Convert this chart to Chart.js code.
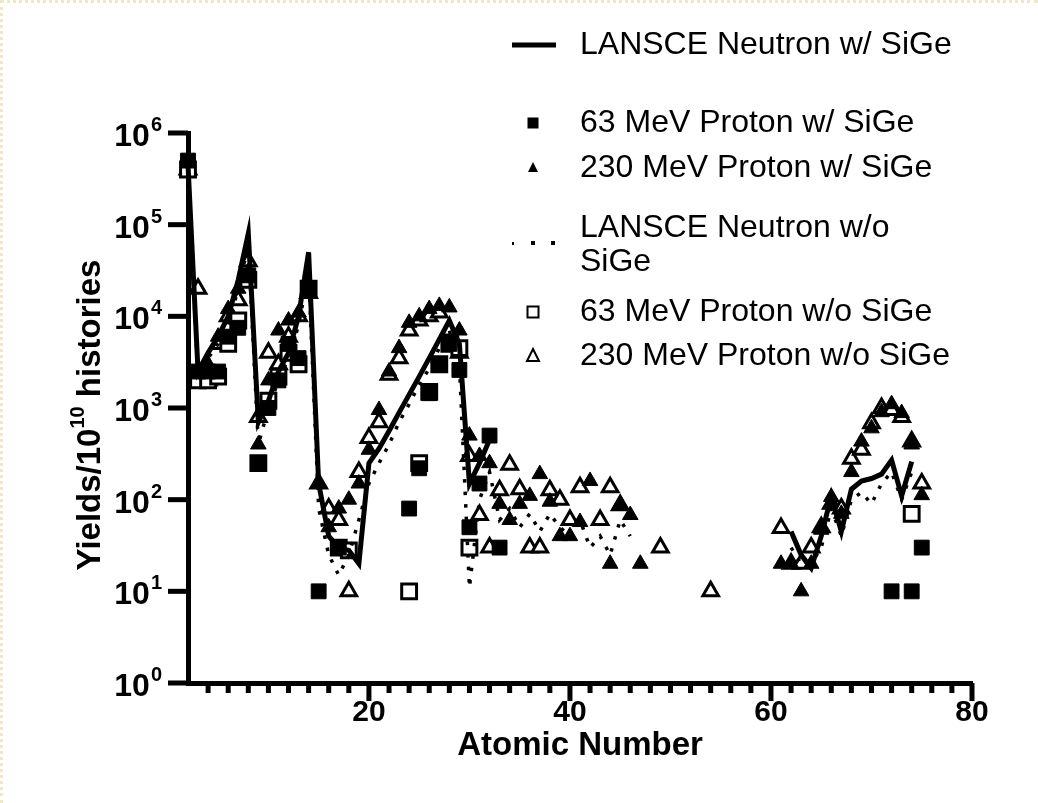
<!DOCTYPE html>
<html>
<head>
<meta charset="utf-8">
<script src="https://cdn.jsdelivr.net/npm/chart.js@4.4.1/dist/chart.umd.min.js"></script>
<style>
    html, body { margin: 0; padding: 0; background: #fff; }
    #wrap { position: relative; width: 1038px; height: 803px; }
    #frame {
        position: absolute; left: 0; top: 0; width: 1038px; height: 803px;
        border-top: 3px dotted #f1e7c4; border-left: 3px dotted #f1e7c4;
        box-sizing: border-box; pointer-events: none;
    }
</style>
</head>
<body>
<div id="wrap">
    <canvas id="yieldChart" width="1038" height="803"></canvas>
    <div id="frame"></div>
</div>
<script>
// Series labels (legend order)
const seriesLabels = [
    'LANSCE Neutron w/ SiGe',
    '63 MeV Proton w/ SiGe',
    '230 MeV Proton w/ SiGe',
    'LANSCE Neutron w/o SiGe',
    '63 MeV Proton w/o SiGe',
    '230 MeV Proton w/o SiGe'
];

// LANSCE neutron with SiGe (solid line), null = gap
const lansceWithZ = [2, 3, 4, 5, 6, 7, 8, 9, 10, 11, 12, 13, 14, 15, 16, 17, 18, 19, 20, 21, 22, 23, 24, 25, 26, 27, 28, 29, 30, 31, 32, 33,
                     62, 63, 64, 65, 66, 67, 68, 69, 70, 71, 72, 73, 74];
const lansceWith = [4.5e5, 2500, 4000, 6000, 1e4, 2.5e4, 8e4, 700, 1200, 2500, 4000, 1e4, 5e4, 150, 40, 30, 28, 20, 250, 360, 560, 890, 1400, 2200, 3500, 5600, 9000, 5000, 150, 250, 450, null,
                    45, 25, 18, 40, 110, 45, 130, 160, 170, 190, 270, 110, 260];

// LANSCE neutron without SiGe (dotted line)
const lansceWithoutZ = [2, 3, 4, 5, 6, 7, 8, 9, 10, 11, 12, 13, 14, 15, 16, 17, 18, 19, 20, 21, 22, 23, 24, 25, 26, 27, 28, 29, 30, 31, 32,
                        33, 34, 35, 36, 37, 38, 39, 40, 41, 42, 43, 44, 45, 46, 47,
                        62, 63, 64, 65, 66, 67, 68, 69, 70, 71, 72, 73, 74];
const lansceWithout = [4e5, 2000, 3500, 5000, 8000, 2e4, 6e4, 400, 1000, 2000, 3500, 8000, 3e4, 80, 25, 15, 25, 60, 150, 250, 400, 700, 1100, 1800, 2700, 4500, 7000, 3000, 11, 100, 200,
                       60, 80, 50, 70, 45, 70, 50, 40, 60, 30, 40, 25, 60, 40, null,
                       30, 20, 20, 30, 80, 40, 100, 120, 90, 150, 200, 100, 200];

// 63 MeV proton with SiGe (filled squares)
const p63WithZ = [2, 3, 4, 5, 6, 7, 8, 9, 10, 11, 12, 13, 14, 15, 17, 24, 25, 26, 27, 28, 29, 30, 31, 32, 33, 72, 74, 75];
const p63With = [5e5, 2500, 2500, 2500, 6000, 7500, 2.8e4, 250, 1000, 2000, 5000, 3500, 2e4, 10, 30, 80, 220, 1450, 3000, 5000, 2600, 50, 150, 500, 30, 10, 10, 30];

// 230 MeV proton with SiGe (filled triangles)
const p230WithZ = [2, 3, 4, 5, 6, 7, 8, 9, 10, 11, 12, 13, 14, 15, 16, 17, 18, 19, 20, 21, 22, 23, 24, 25, 26, 27, 28, 29, 30, 31, 32, 33, 34, 35, 36, 37, 38, 39, 40, 41, 42, 44, 45, 46, 47,
                   61, 62, 63, 64, 65, 66, 67, 68, 69, 70, 71, 72, 73, 74, 75];
const p230With = [5e5, 2500, 3000, 6000, 1.2e4, 2e4, 3e4, 400, 2000, 7000, 9000, 1.1e4, 2.2e4, 150, 50, 80, 100, 150, 350, 950, 2500, 4500, 8500, 1e4, 1.2e4, 1.3e4, 1.25e4, 7000, 500, 300, 250, 90, 60, 90, 110, 190, 95, 40, 40, 57, 160, 20, 90, 68, 20,
                  20, 20, 10, 20, 47, 107, 70, 200, 430, 600, 900, 1100, 880, 400, 112];

// 63 MeV proton without SiGe (open squares)
const p63WithoutZ = [2, 3, 4, 5, 6, 7, 8, 9, 10, 11, 12, 13, 14, 17, 18, 24, 25, 26, 27, 28, 29, 30, 74];
const p63Without = [4e5, 2000, 2000, 2200, 5000, 9000, 2.5e4, 250, 1200, 2200, 4000, 3000, 2e4, 30, 28, 10, 250, 1500, 3000, 5000, 4500, 30, 70];

// 230 MeV proton without SiGe (open triangles)
const p230WithoutZ = [2, 3, 4, 5, 6, 7, 8, 9, 10, 11, 12, 13, 14, 15, 16, 17, 18, 19, 20, 21, 22, 23, 24, 25, 26, 27, 28, 29, 30, 31, 32, 33, 34, 35, 36, 37, 38, 39, 40, 41, 43, 44, 45, 49, 54,
                      61, 62, 63, 64, 65, 66, 67, 68, 69, 70, 71, 72, 73, 74, 75];
const p230Without = [4e5, 2e4, 2000, 5000, 1e4, 1.5e4, 4e4, 800, 4000, 3000, 6000, 1e4, 1.8e4, 150, 80, 60, 10, 200, 470, 700, 2300, 3500, 7000, 9000, 1e4, 1.1e4, 7000, 4000, 300, 68, 30, 127, 240, 130, 30, 30, 127, 100, 60, 137, 60, 137, 87, 30, 10,
                     49, 20, 20, 30, 50, 90, 80, 280, 350, 680, 1000, 950, 800, 430, 150];

// Axis ticks
const xMinorTicks = [4, 6, 8, 10, 12, 14, 16, 18, 22, 24, 26, 28, 30, 32, 34, 36, 38, 42, 44, 46, 48, 50, 52, 54, 56, 58, 62, 64, 66, 68, 70, 72, 74, 76, 78];
const xMajorTicks = [20, 40, 60, 80];
const xTickLabels = ['20', '40', '60', '80'];
const yTickValues = [1, 10, 100, 1000, 1e4, 1e5, 1e6];
const yTickExponents = ['0', '1', '2', '3', '4', '5', '6'];

const FONT = "'Liberation Sans', Arial, sans-serif";

function toPoints(zs, vals) {
    return zs.map((z, i) => ({ x: z, y: vals[i] }));
}

// tick marks, tick labels and axis titles
const axisDecor = {
    id: 'axisDecor',
    afterDraw(chart) {
        const { ctx, chartArea } = chart;
        const x = chart.scales.x;
        const y = chart.scales.y;
        ctx.save();
        ctx.fillStyle = '#000';

        xMinorTicks.forEach(v => {
            const px = x.getPixelForValue(v);
            ctx.fillRect(px - 2.5, chartArea.bottom, 5, 10);
        });
        ctx.font = `bold 30px ${FONT}`;
        ctx.textAlign = 'center';
        ctx.textBaseline = 'middle';
        xMajorTicks.forEach((v, i) => {
            const px = x.getPixelForValue(v);
            ctx.fillRect(px - 2.5, chartArea.bottom, 5, 18);
            ctx.fillText(xTickLabels[i], px, chartArea.bottom + 30);
        });

        yTickValues.forEach((v, i) => {
            const py = y.getPixelForValue(v);
            ctx.fillRect(chartArea.left - 20, py - 2.5, 20, 5);
            ctx.font = `bold 20px ${FONT}`;
            const ew = ctx.measureText(yTickExponents[i]).width;
            ctx.textAlign = 'left';
            ctx.textBaseline = 'alphabetic';
            ctx.fillText(yTickExponents[i], 162 - ew, py - 2);
            ctx.font = `bold 32px ${FONT}`;
            ctx.textAlign = 'right';
            ctx.fillText('10', 162 - ew - 1, py + 13);
        });

        // x title
        ctx.font = `bold 33px ${FONT}`;
        ctx.textAlign = 'center';
        ctx.textBaseline = 'middle';
        ctx.fillText('Atomic Number', (chartArea.left + chartArea.right) / 2, 746);

        // y title with superscript
        ctx.translate(88, 415);
        ctx.rotate(-Math.PI / 2);
        const partA = 'Yields/10';
        const partB = '10';
        const partC = ' histories';
        ctx.font = `bold 33px ${FONT}`;
        const wa = ctx.measureText(partA).width;
        const wc = ctx.measureText(partC).width;
        ctx.font = `bold 20px ${FONT}`;
        const wb = ctx.measureText(partB).width;
        let cx = -(wa + wb + wc) / 2;
        ctx.textAlign = 'left';
        ctx.textBaseline = 'alphabetic';
        ctx.font = `bold 33px ${FONT}`;
        ctx.fillText(partA, cx, 12);
        cx += wa;
        ctx.font = `bold 20px ${FONT}`;
        ctx.fillText(partB, cx, -4);
        cx += wb;
        ctx.font = `bold 33px ${FONT}`;
        ctx.fillText(partC, cx, 12);
        ctx.restore();
    }
};

// legend in the upper right
const legendBox = {
    id: 'legendBox',
    afterDraw(chart) {
        const { ctx } = chart;
        const symX = 533;
        const textX = 580;
        const rows = [45, 123, 168, 228, 312, 356];
        ctx.save();
        ctx.fillStyle = '#000';
        ctx.strokeStyle = '#000';

        // solid line
        ctx.fillRect(512, rows[0] - 2.5, 44, 5);
        // filled square
        ctx.fillRect(symX - 5.5, rows[1] - 5.5, 11, 11);
        // filled triangle
        ctx.beginPath();
        ctx.moveTo(symX, rows[2] - 6);
        ctx.lineTo(symX + 5, rows[2] + 4);
        ctx.lineTo(symX - 5, rows[2] + 4);
        ctx.closePath();
        ctx.fill();
        // dots
        ctx.fillRect(512, rows[3] + 14, 2, 3);
        ctx.fillRect(531, rows[3] + 13, 4, 4);
        ctx.fillRect(551, rows[3] + 13, 4, 4);
        // open square
        ctx.lineWidth = 2;
        ctx.strokeRect(symX - 5.5, rows[4] - 5.5, 11, 11);
        // open triangle
        ctx.beginPath();
        ctx.moveTo(symX, rows[5] - 7);
        ctx.lineTo(symX + 6, rows[5] + 5);
        ctx.lineTo(symX - 6, rows[5] + 5);
        ctx.closePath();
        ctx.stroke();

        ctx.font = `32px ${FONT}`;
        ctx.textAlign = 'left';
        ctx.textBaseline = 'middle';
        ctx.fillText(seriesLabels[0], textX, rows[0]);
        ctx.fillText(seriesLabels[1], textX, rows[1]);
        ctx.fillText(seriesLabels[2], textX, rows[2]);
        ctx.fillText('LANSCE Neutron w/o', textX, rows[3]);
        ctx.fillText('SiGe', textX, rows[3] + 34);
        ctx.fillText(seriesLabels[4], textX, rows[4]);
        ctx.fillText(seriesLabels[5], textX, rows[5]);
        ctx.restore();
    }
};

new Chart(document.getElementById('yieldChart'), {
    type: 'scatter',
    data: {
        datasets: [
            {
                label: seriesLabels[0],
                data: toPoints(lansceWithZ, lansceWith),
                showLine: true,
                spanGaps: false,
                borderColor: '#000',
                borderWidth: 5,
                pointRadius: 0,
                tension: 0,
                clip: false
            },
            {
                label: seriesLabels[1],
                data: toPoints(p63WithZ, p63With),
                pointStyle: 'rect',
                pointRadius: 10.5,
                backgroundColor: '#000',
                borderColor: '#000',
                borderWidth: 1,
                clip: false
            },
            {
                label: seriesLabels[2],
                data: toPoints(p230WithZ, p230With),
                pointStyle: 'triangle',
                pointRadius: 9,
                backgroundColor: '#000',
                borderColor: '#000',
                borderWidth: 1,
                clip: false
            },
            {
                label: seriesLabels[3],
                data: toPoints(lansceWithoutZ, lansceWithout),
                showLine: true,
                spanGaps: false,
                borderColor: '#000',
                borderWidth: 3.5,
                borderDash: [3.5, 9],
                pointRadius: 0,
                tension: 0,
                clip: false
            },
            {
                label: seriesLabels[4],
                data: toPoints(p63WithoutZ, p63Without),
                pointStyle: 'rect',
                pointRadius: 10.5,
                backgroundColor: '#fff',
                borderColor: '#000',
                borderWidth: 3,
                clip: false
            },
            {
                label: seriesLabels[5],
                data: toPoints(p230WithoutZ, p230Without),
                pointStyle: 'triangle',
                pointRadius: 9,
                backgroundColor: '#fff',
                borderColor: '#000',
                borderWidth: 3,
                clip: false
            }
        ]
    },
    options: {
        responsive: false,
        animation: false,
        layout: { padding: { left: 188, right: 66, top: 133, bottom: 120 } },
        plugins: {
            legend: { display: false },
            tooltip: { enabled: false }
        },
        scales: {
            x: {
                type: 'linear',
                min: 2,
                max: 80,
                grid: { display: false, drawTicks: false },
                border: { display: true, width: 5, color: '#000' },
                ticks: { display: false }
            },
            y: {
                type: 'logarithmic',
                min: 1,
                max: 1e6,
                grid: { display: false, drawTicks: false },
                border: { display: true, width: 5, color: '#000' },
                ticks: { display: false }
            }
        }
    },
    plugins: [axisDecor, legendBox]
});
</script>
</body>
</html>
